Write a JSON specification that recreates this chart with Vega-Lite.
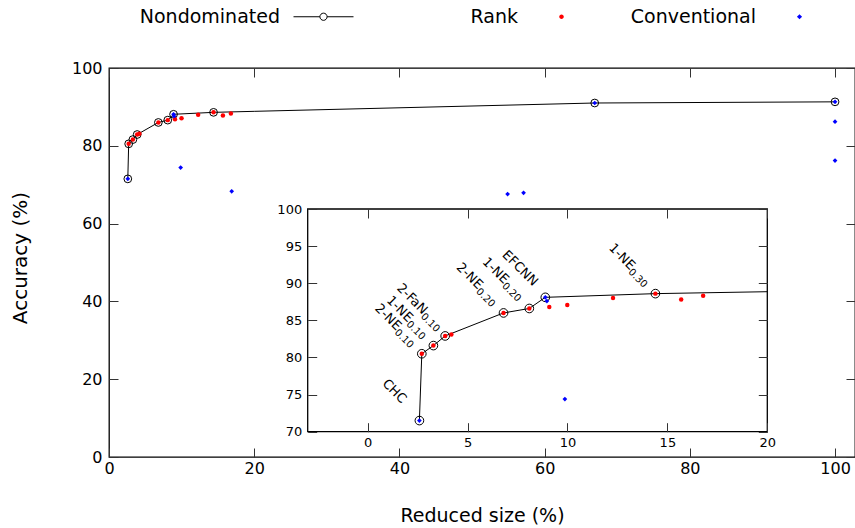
{
  "$schema": "https://vega.github.io/schema/vega-lite/v6.json",
  "width": 746,
  "height": 389,
  "autosize": "none",
  "padding": {"left": 109, "top": 68, "right": 0, "bottom": 71},
  "background": "white",
  "config": {
    "font": "DejaVu Sans",
    "view": {"stroke": "black", "strokeWidth": 1.3},
    "axis": {
      "grid": false,
      "domain": false,
      "labelFont": "DejaVu Sans",
      "titleFont": "DejaVu Sans",
      "labelColor": "black",
      "titleColor": "black",
      "titleFontWeight": "normal",
      "tickColor": "#333333",
      "tickSize": -9,
      "tickWidth": 1,
      "labelFlush": false
    }
  },
  "datasets": {
    "pts": [
      {"s": "Nondominated", "x": 2.59, "y": 71.5},
      {"s": "Nondominated", "x": 2.71, "y": 80.5},
      {"s": "Nondominated", "x": 3.29, "y": 81.6},
      {"s": "Nondominated", "x": 3.88, "y": 82.9},
      {"s": "Nondominated", "x": 6.8, "y": 86.0},
      {"s": "Nondominated", "x": 8.09, "y": 86.6},
      {"s": "Nondominated", "x": 8.89, "y": 88.1},
      {"s": "Nondominated", "x": 14.4, "y": 88.6},
      {"s": "edge", "x": 20, "y": 88.86},
      {"s": "Nondominated", "x": 66.9, "y": 91.0},
      {"s": "Nondominated", "x": 100, "y": 91.3},
      {"s": "Rank", "x": 2.71, "y": 80.5},
      {"s": "Rank", "x": 3.29, "y": 81.6},
      {"s": "Rank", "x": 3.88, "y": 82.9},
      {"s": "Rank", "x": 4.19, "y": 83.1},
      {"s": "Rank", "x": 6.8, "y": 86.0},
      {"s": "Rank", "x": 8.09, "y": 86.6},
      {"s": "Rank", "x": 9.09, "y": 86.8},
      {"s": "Rank", "x": 9.99, "y": 87.07},
      {"s": "Rank", "x": 12.28, "y": 88.0},
      {"s": "Rank", "x": 14.4, "y": 88.6},
      {"s": "Rank", "x": 15.69, "y": 87.8},
      {"s": "Rank", "x": 16.79, "y": 88.3},
      {"s": "Conventional", "x": 2.59, "y": 71.5},
      {"s": "Conventional", "x": 8.89, "y": 88.1},
      {"s": "Conventional", "x": 8.97, "y": 87.6},
      {"s": "Conventional", "x": 9.87, "y": 74.4},
      {"s": "Conventional", "x": 16.9, "y": 68.3},
      {"s": "Conventional", "x": 54.9, "y": 67.6},
      {"s": "Conventional", "x": 57.1, "y": 67.9},
      {"s": "Conventional", "x": 66.9, "y": 91.0},
      {"s": "Conventional", "x": 100, "y": 91.3},
      {"s": "Conventional", "x": 100, "y": 86.2},
      {"s": "Conventional", "x": 100, "y": 76.2}
    ],
    "frame": [{"x": -3, "x2": 20, "y": 70, "y2": 100}],
    "lab": [
      {"x": 1.83, "y": 74.12, "t": "CHC", "u": ""},
      {"x": 1.57, "y": 83.95, "t": "2-NE", "u": "0.10"},
      {"x": 2.15, "y": 85.06, "t": "1-NE", "u": "0.10"},
      {"x": 2.88, "y": 86.12, "t": "2-FaN", "u": "0.10"},
      {"x": 5.65, "y": 89.5, "t": "2-NE", "u": "0.20"},
      {"x": 6.95, "y": 90.22, "t": "1-NE", "u": "0.20"},
      {"x": 8.41, "y": 89.91, "t": "EFCNN", "u": ""},
      {"x": 13.27, "y": 92.1, "t": "1-NE", "u": "0.30"}
    ]
  },
  "layer": [
    {
      "data": {"name": "pts"},
      "layer": [
        {
          "transform": [{"filter": {"field": "s", "oneOf": ["Nondominated", "edge"]}}],
          "mark": {"type": "line", "color": "black", "strokeWidth": 1},
          "encoding": {
            "x": {"field": "x", "type": "quantitative",
              "scale": {"domain": [0, 102.75], "nice": false, "zero": false},
              "axis": {"orient": "bottom", "values": [0, 20, 40, 60, 80, 100], "labelFontSize": 16, "labelPadding": 12, "labelDx": 2.5, "labelBaseline": "top",
                "title": "Reduced size (%)", "titleFontSize": 19, "titleY": 64.7, "titleBaseline": "alphabetic"}},
            "y": {"field": "y", "type": "quantitative",
              "scale": {"domain": [0, 100], "nice": false, "zero": false},
              "axis": {"orient": "left", "values": [0, 20, 40, 60, 80, 100], "labelFontSize": 16, "labelPadding": 16,
                "title": "Accuracy (%)", "titleFontSize": 20, "titleAngle": -90, "titleX": -82.3, "titleY": 189.5, "titleAlign": "center", "titleBaseline": "alphabetic"}},
            "order": {"field": "x", "type": "quantitative"}
          }
        },
        {
          "transform": [{"filter": {"field": "s", "equal": "Nondominated"}}],
          "mark": {"type": "point", "shape": "circle", "filled": false, "size": 60, "color": "black", "strokeWidth": 1, "opacity": 1},
          "encoding": {
            "x": {"field": "x", "type": "quantitative", "axis": {"orient": "top", "values": [0, 20, 40, 60, 80, 100], "labels": false, "title": null}},
            "y": {"field": "y", "type": "quantitative", "axis": {"orient": "right", "values": [0, 20, 40, 60, 80, 100], "labels": false, "title": null}}
          }
        },
        {
          "transform": [{"filter": {"field": "s", "equal": "Rank"}}],
          "mark": {"type": "circle", "size": 20, "color": "#ff0000", "opacity": 1},
          "encoding": {
            "x": {"field": "x", "type": "quantitative", "axis": null},
            "y": {"field": "y", "type": "quantitative", "axis": null}
          }
        },
        {
          "transform": [{"filter": {"field": "s", "equal": "Conventional"}}],
          "mark": {"type": "point", "shape": "diamond", "filled": true, "size": 22, "color": "#0000ff", "opacity": 1},
          "encoding": {
            "x": {"field": "x", "type": "quantitative", "axis": null},
            "y": {"field": "y", "type": "quantitative", "axis": null}
          }
        },
        {
          "transform": [{"filter": "datum.s == 'none'"}],
          "mark": {"type": "point", "filled": true, "size": 3600, "strokeWidth": 1, "opacity": 1},
          "encoding": {
            "fill": {"field": "s", "type": "nominal",
              "scale": {"domain": ["Nondominated", "Rank", "Conventional"], "range": ["transparent", "#ff0000", "#0000ff"]},
              "legend": {"orient": "none", "direction": "horizontal", "legendX": 184, "legendY": -82, "title": null,
                "labelFont": "DejaVu Sans", "labelFontSize": 19, "labelColor": "black", "labelAlign": "right", "labelOffset": -74, "labelLimit": 400,
                "symbolStrokeWidth": 1, "symbolSize": 3600, "gridAlign": "all", "columnPadding": 36, "padding": 0}},
            "stroke": {"field": "s", "type": "nominal",
              "scale": {"domain": ["Nondominated", "Rank", "Conventional"], "range": ["black", "transparent", "transparent"]}},
            "shape": {"field": "s", "type": "nominal",
              "scale": {"domain": ["Nondominated", "Rank", "Conventional"],
                "range": ["M-1,0H-0.12M0.12,0H1M0.12,0A0.12,0.12 0 1,1 -0.12,0A0.12,0.12 0 1,1 0.12,0",
                          "M0.075,0A0.075,0.075 0 1,1 -0.075,0A0.075,0.075 0 1,1 0.075,0",
                          "M0,-0.085L0.085,0L0,0.085L-0.085,0Z"]}}
          }
        }
      ]
    },
    {
      "layer": [
        {
          "data": {"name": "frame"},
          "mark": {"type": "rect", "fill": "white", "stroke": "black", "strokeWidth": 1.3},
          "encoding": {
            "x": {"field": "x", "type": "quantitative",
              "scale": {"domain": [-3, 20], "range": [198.7, 658.3], "nice": false, "zero": false},
              "axis": {"orient": "bottom", "offset": -25.3, "values": [0, 5, 10, 15, 20], "labelFontSize": 13, "labelPadding": 13.7, "labelBaseline": "top", "title": null, "zindex": 1}},
            "x2": {"field": "x2"},
            "y": {"field": "y", "type": "quantitative",
              "scale": {"domain": [70, 100], "range": [363.7, 141], "nice": false, "zero": false},
              "axis": {"orient": "left", "offset": -198.7, "values": [70, 75, 80, 85, 90, 95, 100], "labelFontSize": 13, "labelPadding": 15, "title": null, "zindex": 1}},
            "y2": {"field": "y2"}
          }
        },
        {
          "data": {"name": "pts"},
          "transform": [{"filter": {"field": "s", "oneOf": ["Nondominated", "edge"]}}, {"filter": "datum.x <= 20 && datum.y >= 70"}],
          "mark": {"type": "line", "color": "black", "strokeWidth": 1},
          "encoding": {
            "x": {"field": "x", "type": "quantitative", "axis": {"orient": "top", "offset": -141, "values": [0, 5, 10, 15, 20], "labels": false, "title": null, "zindex": 1}},
            "y": {"field": "y", "type": "quantitative", "axis": {"orient": "right", "offset": -87.7, "values": [70, 75, 80, 85, 90, 95, 100], "labels": false, "title": null, "zindex": 1}},
            "order": {"field": "x", "type": "quantitative"}
          }
        },
        {
          "data": {"name": "pts"},
          "transform": [{"filter": {"field": "s", "equal": "Nondominated"}}, {"filter": "datum.x <= 20 && datum.y >= 70"}],
          "mark": {"type": "point", "shape": "circle", "filled": false, "size": 75, "color": "black", "strokeWidth": 1, "opacity": 1},
          "encoding": {
            "x": {"field": "x", "type": "quantitative", "axis": null},
            "y": {"field": "y", "type": "quantitative", "axis": null}
          }
        },
        {
          "data": {"name": "pts"},
          "transform": [{"filter": {"field": "s", "equal": "Rank"}}, {"filter": "datum.x <= 20 && datum.y >= 70"}],
          "mark": {"type": "circle", "size": 20, "color": "#ff0000", "opacity": 1},
          "encoding": {
            "x": {"field": "x", "type": "quantitative", "axis": null},
            "y": {"field": "y", "type": "quantitative", "axis": null}
          }
        },
        {
          "data": {"name": "pts"},
          "transform": [{"filter": {"field": "s", "equal": "Conventional"}}, {"filter": "datum.x <= 20 && datum.y >= 70"}],
          "mark": {"type": "point", "shape": "diamond", "filled": true, "size": 22, "color": "#0000ff", "opacity": 1},
          "encoding": {
            "x": {"field": "x", "type": "quantitative", "axis": null},
            "y": {"field": "y", "type": "quantitative", "axis": null}
          }
        },
        {
          "data": {"name": "lab"},
          "mark": {"type": "text", "angle": 45, "align": "right", "baseline": "middle", "font": "DejaVu Sans", "fontSize": 13, "color": "black"},
          "encoding": {
            "x": {"field": "x", "type": "quantitative", "axis": null},
            "y": {"field": "y", "type": "quantitative", "axis": null},
            "text": {"field": "t"}
          }
        },
        {
          "data": {"name": "lab"},
          "mark": {"type": "text", "angle": 45, "align": "left", "baseline": "middle", "dy": 4, "font": "DejaVu Sans", "fontSize": 10, "color": "black"},
          "encoding": {
            "x": {"field": "x", "type": "quantitative", "axis": null},
            "y": {"field": "y", "type": "quantitative", "axis": null},
            "text": {"field": "u"}
          }
        }
      ]
    }
  ],
  "resolve": {"scale": {"x": "independent", "y": "independent"}}
}
